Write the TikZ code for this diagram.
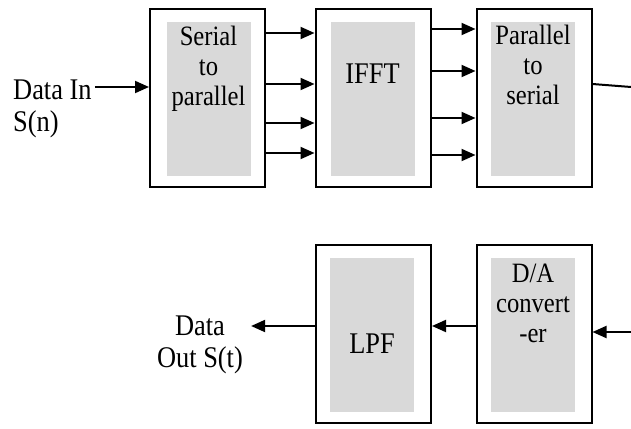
\documentclass[tikz,border=0pt]{standalone}
\usepackage{fontspec}
\setmainfont[FakeStretch=0.88]{Liberation Serif}
\usetikzlibrary{arrows.meta}

\tikzset{
    block/.style={draw, line width=2pt, minimum width=115pt, minimum height=178pt, inner sep=0pt},
    inbox/.style={fill=black!15, minimum width=84pt, minimum height=154pt, inner sep=0pt},
    blocktext/.style={anchor=base, align=center, inner sep=0pt, font=\fontsize{28}{30}\selectfont},
    bigtext/.style={anchor=base, inner sep=0pt, font=\fontsize{30}{32}\selectfont},
    sig/.style={line width=2pt, -{Triangle[length=14pt,width=12pt]}}
}

\begin{document}
\begin{tikzpicture}[x=1pt,y=-1pt]
                \useasboundingbox (0,0) rectangle (631,428);

                % transmitter chain
                \node[block] (sp) at (207.5,98) {};
                \node[inbox] (spin) at (208.5,99) {};
                \node[blocktext] (sptext) at ([yshift=-84pt]spin.north) {Serial\\to\\parallel};

                \node[block] (ifft) at (373,98) {};
                \node[inbox] (ifftin) at (372.5,99) {};
                \node[bigtext] (iffttext) at (372.5,83) {IFFT};

                \node[block] (ps) at (534,98) {};
                \node[inbox] (psin) at (533,99) {};
                \node[blocktext] (pstext) at ([yshift=-83pt]psin.north) {Parallel\\to\\serial};

                \node[bigtext, anchor=base west, align=left, inner sep=3pt] (din) at (10,131) {Data In\\S(n)};
                \draw[sig]
                    (din.east |- 0,87) -- (sp.west |- 0,87);

                \foreach \y in {33,84,123,153}
                    \draw[sig] (sp.east |- 0,\y) -- (ifft.west |- 0,\y);
                \foreach \y in {29,71,118,155}
                    \draw[sig] (ifft.east |- 0,\y) -- (ps.west |- 0,\y);

                \coordinate (txout) at (631,87);
                \draw[line width=2pt]
                    (ps.east |- 0,84) -- (txout);

                % receiver chain
                \node[block] (lpf) at (373.5,334) {};
                \node[inbox] (lpfin) at (372,334.5) {};
                \node[bigtext] (lpftext) at (372,353) {LPF};

                \node[block] (da) at (534,334) {};
                \node[inbox] (dain) at (533,334.5) {};
                \node[blocktext] (datext) at ([yshift=-85pt]dain.north) {D/A\\convert\\-er};

                \node[bigtext, align=center, inner sep=8pt] (dout) at (200,367) {Data\\Out S(t)};

                \coordinate (rxin) at (631,332);
                \draw[sig]
                    (rxin) -- (da.east |- 0,332);
                \draw[sig]
                    (da.west |- 0,326) -- (lpf.east |- 0,326);
                \draw[sig]
                    (lpf.west |- 0,326) -- (dout.east |- 0,326);
\end{tikzpicture}
\end{document}
